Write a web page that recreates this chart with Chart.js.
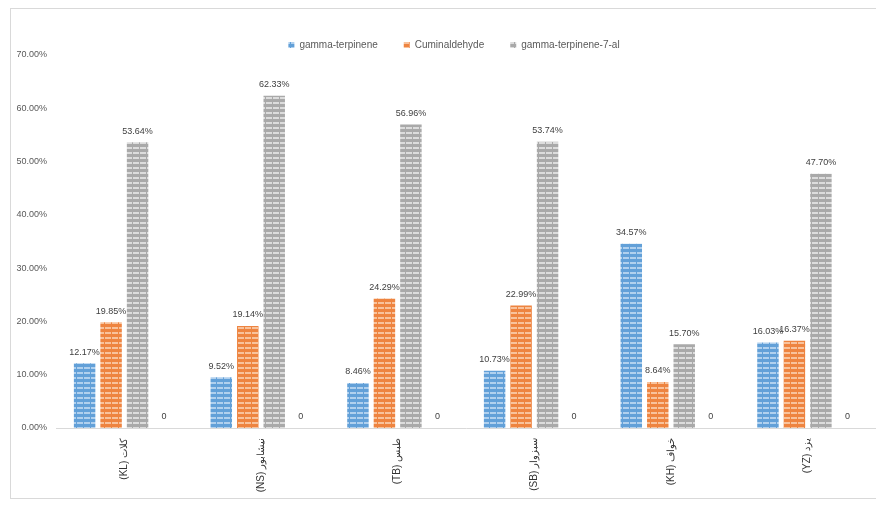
<!DOCTYPE html>
<html>
<head>
<meta charset="utf-8">
<script src="https://cdn.jsdelivr.net/npm/chart.js@4.4.1/dist/chart.umd.min.js"></script>
<style>
  html, body { margin: 0; padding: 0; background: #ffffff; }
  #wrap { width: 876px; height: 506px; position: relative; }
</style>
</head>
<body>
<div id="wrap"><canvas id="chart" width="876" height="506"></canvas></div>
<script>
// Regions (sample codes in parentheses)
const categories = [
  "(KL) کلات",
  "(NS) نیشابور",
  "(TB) طبس",
  "(SB) سبزوار",
  "(KH) خواف",
  "(YZ) یزد"
];

// Share of each compound in the essential oil, in percent
const gammaTerpinene    = [12.17, 9.52, 8.46, 10.73, 34.57, 16.03];
const cuminaldehyde     = [19.85, 19.14, 24.29, 22.99, 8.64, 16.37];
const gammaTerpinene7al = [53.64, 62.33, 56.96, 53.74, 15.70, 47.70];
const emptySeries       = [0, 0, 0, 0, 0, 0];

const seriesNames = ["gamma-terpinene", "Cuminaldehyde", "gamma-terpinene-7-al"];
const yTicks = [0, 10, 20, 30, 40, 50, 60, 70];

const FONT = "'Liberation Sans', Arial, sans-serif";

// Striped fill used by the bars: solid base with lighter broken bands
function stripes(base, light) {
  const c = document.createElement('canvas');
  c.width = 7; c.height = 5;
  const g = c.getContext('2d');
  g.fillStyle = base;
  g.fillRect(0, 0, 7, 5);
  g.fillStyle = light;
  g.fillRect(0, 2, 6, 2);
  return g.createPattern(c, 'repeat');
}

const blueFill   = stripes('#62A0D8', '#B0D0EE');
const orangeFill = stripes('#EE8440', '#F8C29C');
const grayFill   = stripes('#A9A9A9', '#DCDCDC');

// White page with a thin frame around the chart
const framePlugin = {
  id: 'frame',
  beforeDraw(chart) {
    const ctx = chart.ctx;
    ctx.save();
    ctx.fillStyle = '#ffffff';
    ctx.fillRect(0, 0, chart.width, chart.height);
    ctx.strokeStyle = '#d9d9d9';
    ctx.lineWidth = 1;
    ctx.strokeRect(10.5, 8.5, 880, 490);
    ctx.restore();
  }
};

// Value labels above each bar
const valueLabels = {
  id: 'valueLabels',
  afterDatasetsDraw(chart) {
    const ctx = chart.ctx;
    ctx.save();
    ctx.font = '9px ' + FONT;
    ctx.fillStyle = '#404040';
    ctx.textAlign = 'center';
    ctx.textBaseline = 'middle';
    chart.data.datasets.forEach((ds, i) => {
      const meta = chart.getDatasetMeta(i);
      meta.data.forEach((bar, j) => {
        const v = ds.data[j];
        const txt = ds.isEmpty ? '0' : v.toFixed(2) + '%';
        ctx.fillText(txt, bar.x, bar.y - 11);
      });
    });
    ctx.restore();
  }
};

// Fixed legend band height, drawn slightly right of centre
const legendTweaks = {
  id: 'legendTweaks',
  beforeInit(chart) {
    const lg = chart.legend;
    const fit = lg.fit;
    lg.fit = function () {
      fit.call(this);
      this.height = 41;
    };
    const draw = lg.draw;
    lg.draw = function () {
      const ctx = this.ctx;
      ctx.save();
      ctx.translate(11, 0);
      draw.apply(this, arguments);
      ctx.restore();
    };
  }
};

new Chart(document.getElementById('chart'), {
  type: 'bar',
  data: {
    labels: categories,
    datasets: [
      { label: seriesNames[0], data: gammaTerpinene, backgroundColor: blueFill },
      { label: seriesNames[1], data: cuminaldehyde, backgroundColor: orangeFill },
      { label: seriesNames[2], data: gammaTerpinene7al, backgroundColor: grayFill },
      { label: '', data: emptySeries, backgroundColor: 'rgba(0,0,0,0)', isEmpty: true }
    ]
  },
  options: {
    responsive: false,
    animation: false,
    devicePixelRatio: 1,
    layout: { padding: { left: 10, right: 0, top: 14, bottom: 0 } },
    datasets: {
      bar: { categoryPercentage: 0.775, barPercentage: 0.81 }
    },
    plugins: {
      legend: {
        position: 'top',
        labels: {
          font: { family: FONT, size: 10 },
          color: '#595959',
          boxWidth: 6,
          boxHeight: 6,
          padding: 26,
          filter: (item) => item.text !== ''
        }
      },
      tooltip: { enabled: false }
    },
    scales: {
      x: {
        grid: { display: false },
        border: { display: true, color: '#d9d9d9' },
        ticks: {
          minRotation: 90,
          maxRotation: 90,
          font: { family: FONT, size: 10 },
          color: '#333333',
          padding: 2
        },
        afterFit(scale) { scale.height = 78; }
      },
      y: {
        min: 0,
        max: 70,
        grid: { display: false },
        border: { display: false },
        afterBuildTicks(scale) { scale.ticks = yTicks.map(v => ({ value: v })); },
        ticks: {
          font: { family: FONT, size: 9 },
          color: '#595959',
          padding: 1,
          callback: (v) => Number(v).toFixed(2) + '%'
        },
        afterFit(scale) { scale.width = 46; }
      }
    }
  },
  plugins: [framePlugin, valueLabels, legendTweaks]
});
</script>
</body>
</html>
